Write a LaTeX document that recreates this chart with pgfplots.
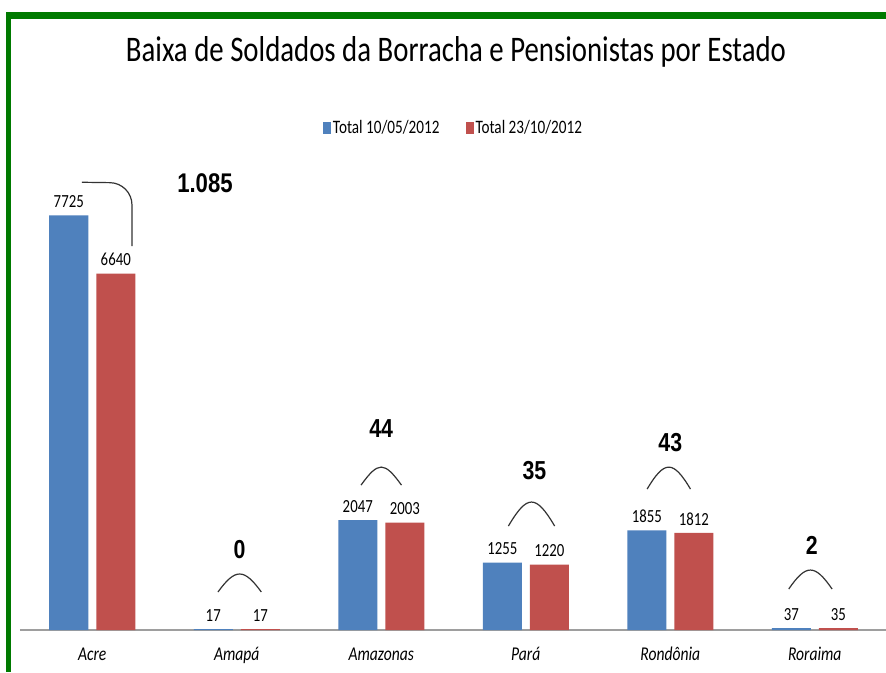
\documentclass[border=0pt]{standalone}
\usepackage{fontspec}
\setmainfont{Carlito}[FakeStretch=0.8]
\newfontfamily\difffont{Liberation Sans}[FakeStretch=0.82]
\usepackage{pgfplots}
\pgfplotsset{compat=1.18}
\definecolor{barblue}{HTML}{4F81BD}
\definecolor{barred}{HTML}{C0504D}
\definecolor{framegreen}{HTML}{007A00}

% arcs between the two bars: x1 c1 c2 x2 yend yctrl
\newcommand{\diffarc}[6]{%
  \draw[line width=1.2pt, black!80] (axis cs:#1,#5) .. controls (axis cs:#2,#6) and (axis cs:#3,#6) .. (axis cs:#4,#5);}

\begin{document}
\begin{tikzpicture}[x=1pt,y=1pt]
\path[use as bounding box] (0,0) rectangle (886,672);
\fill[white] (0,0) rectangle (886,672);
\fill[framegreen] (6,653) rectangle (886,660);
\fill[framegreen] (6,0) rectangle (11,660);

\node[font=\fontsize{36}{40}\selectfont] at (456,620) {Baixa de Soldados da Borracha e Pensionistas por Estado};

\begin{axis}[
    at={(20pt,42pt)}, anchor=south west,
    scale only axis, width=867pt, height=483pt,
    xmin=-0.5, xmax=5.5, ymin=0, ymax=9000,
    axis y line=none,
    axis x line*=bottom,
    x axis line style={draw=black!38, line width=1.5pt, -},
    xtick={0,1,2,3,4,5},
    xticklabels={Acre, Amapá, Amazonas, Pará, Rondônia, Roraima},
    xticklabel style={font=\itshape\fontsize{19.5}{21}\selectfont,
        text height=15pt, text depth=4pt, yshift=-12pt},
    major tick length=0pt,
    ybar, bar width=39pt,
    clip=false,
    nodes near coords,
    every node near coord/.append style={font=\fontsize{18.5}{19}\selectfont, black, yshift=4pt},
    /pgf/number format/1000 sep={},
    /pgf/number format/assume math mode=true,
    legend style={at={(0.5,1.04)}, anchor=center, draw=none,
        font=\fontsize{19}{21}\selectfont,
        /tikz/every even column/.append style={column sep=24pt}},
    legend columns=2,
    legend image code/.code={\fill[#1, draw=none] (0pt,-6pt) rectangle (8pt,6pt);},
]
\addplot[fill=barblue, draw=none, bar shift=-23.5pt] coordinates {
    (0,7725) (1,17) (2,2047) (3,1255) (4,1855) (5,37)};
\addlegendentry{Total 10/05/2012}
\addplot[fill=barred, draw=none, bar shift=23.5pt] coordinates {
    (0,6640) (1,17) (2,2003) (3,1220) (4,1812) (5,35)};
\addlegendentry{Total 23/10/2012}

% differences
\draw[line width=1.2pt, black!80, rounded corners=22pt]
    (axis cs:-0.071,8343) -- (axis cs:0.275,8330) -- (axis cs:0.275,7151);
\node[font=\difffont\bfseries\fontsize{27}{30}\selectfont] at (axis cs:0.78,8324) {1.085};

\diffarc{0.87}{0.99}{1.05}{1.17}{708}{1155}
\node[font=\difffont\bfseries\fontsize{26}{28}\selectfont] at (axis cs:1.02,1490) {0};
\diffarc{1.86}{1.98}{2.02}{2.14}{2700}{3147}
\node[font=\difffont\bfseries\fontsize{26}{28}\selectfont] at (axis cs:2.0,3762) {44};
\diffarc{2.88}{3.01}{3.07}{3.20}{1937}{2533}
\node[font=\difffont\bfseries\fontsize{26}{28}\selectfont] at (axis cs:3.06,2980) {35};
\diffarc{3.84}{3.96}{4.02}{4.14}{2626}{3171}
\node[font=\difffont\bfseries\fontsize{26}{28}\selectfont] at (axis cs:4.0,3501) {43};
\diffarc{4.82}{4.94}{5.00}{5.12}{763}{1235}
\node[font=\difffont\bfseries\fontsize{26}{28}\selectfont] at (axis cs:4.98,1583) {2};
\end{axis}
\end{tikzpicture}
\end{document}
